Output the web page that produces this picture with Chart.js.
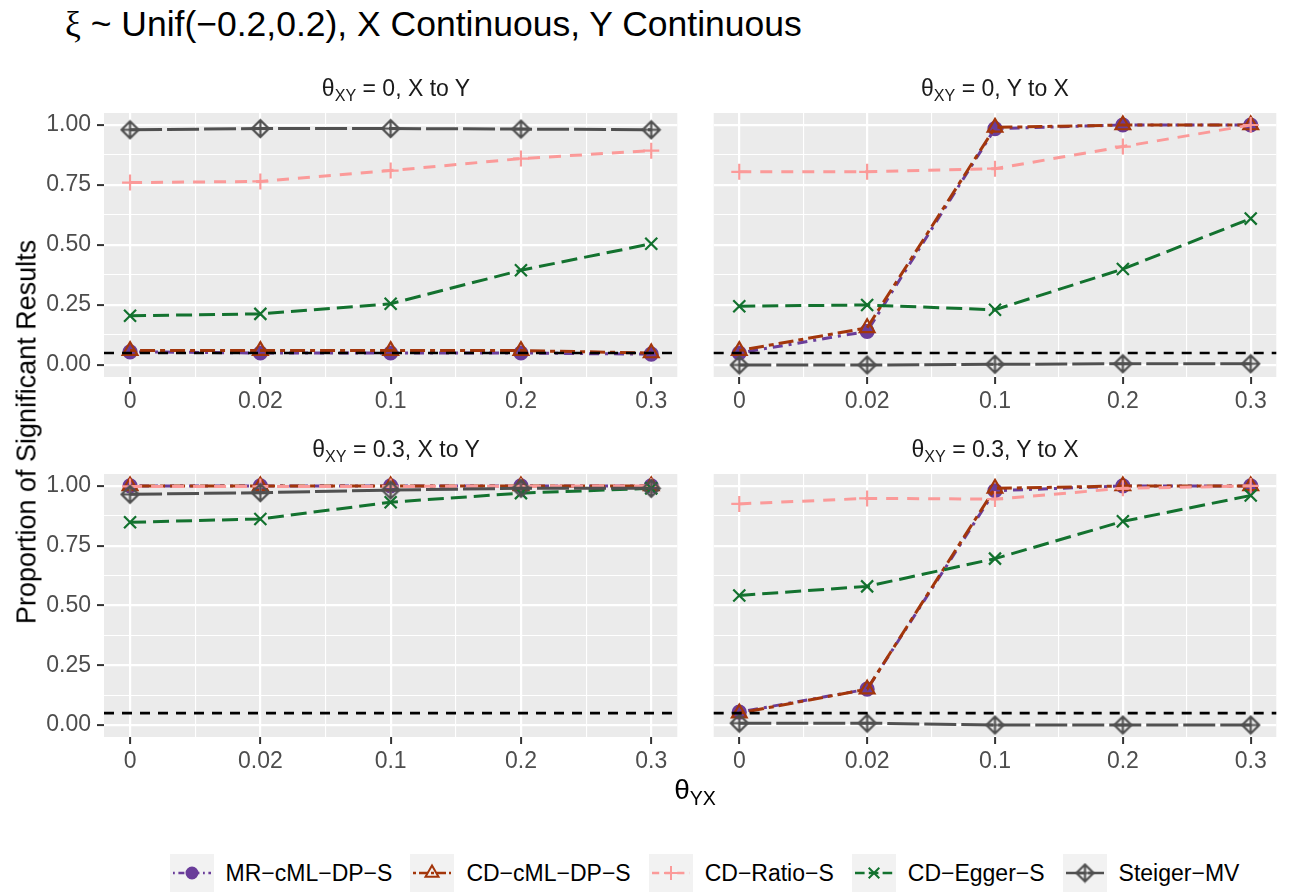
<!DOCTYPE html>
<html>
<head>
<meta charset="utf-8">
<script src="https://cdn.jsdelivr.net/npm/chart.js@4.4.0/dist/chart.umd.min.js"></script>
<style>
body { margin: 0; background: #fff; width: 1296px; height: 892px; position: relative; overflow: hidden; font-family: 'Liberation Sans', Arial, sans-serif; }
canvas.panel { position: absolute; }
.txt { position: absolute; white-space: nowrap; line-height: 1; }
.strip { font-size: 23px; color: #1A1A1A; transform: translateX(-50%); }
.strip sub, #xtitle sub { font-size: 0.7em; vertical-align: -0.3em; }
#legend { position: absolute; left: 113px; width: 1183px; top: 853px; height: 40px; display: flex; justify-content: center; align-items: center; }
#legend .item { display: flex; align-items: center; margin: 0 9px; }
#legend canvas { margin-right: 12px; }
#legend span { font-size: 23px; color: #000; }
</style>
</head>
<body>
<div class="txt" style="left:65px; top:7px; font-size:35.5px; color:#000;"><span style="font-family:'Liberation Serif', serif;">ξ</span> ~ Unif(−0.2,0.2), X Continuous, Y Continuous</div>

<canvas id="p0" class="panel" width="652" height="328" style="left:36px; top:93px;"></canvas>
<canvas id="p1" class="panel" width="584" height="328" style="left:703px; top:93px;"></canvas>
<canvas id="p2" class="panel" width="652" height="327" style="left:36px; top:454px;"></canvas>
<canvas id="p3" class="panel" width="584" height="327" style="left:703px; top:454px;"></canvas>

<div id="ytitle" class="txt" style="left:27px; top:432px; font-size:27px; color:#000; transform: translate(-50%, -50%) rotate(-90deg);">Proportion of Significant Results</div>
<div id="xtitle" class="txt" style="left:695px; top:776px; font-size:28px; color:#000; transform: translateX(-50%);">θ<sub>YX</sub></div>

<div id="legend"></div>

<script>
const xLabels = ['0', '0.02', '0.1', '0.2', '0.3'];
const yTicks = [0, 0.25, 0.5, 0.75, 1];
const yLabels = ['0.00', '0.25', '0.50', '0.75', '1.00'];
const thetaXY = ['0', '0', '0.3', '0.3'];
const direction = ['X to Y', 'Y to X', 'X to Y', 'Y to X'];
const seriesNames = ['MR−cML−DP−S', 'CD−cML−DP−S', 'CD−Ratio−S', 'CD−Egger−S', 'Steiger−MV'];
const refLine = 0.05;

// one row per panel: (0, X to Y), (0, Y to X), (0.3, X to Y), (0.3, Y to X)
const mrCml = [
    [0.055, 0.05, 0.05, 0.05, 0.045],
    [0.05, 0.14, 0.985, 1.0, 1.0],
    [1.0, 1.0, 1.0, 1.0, 1.0],
    [0.054, 0.15, 0.98, 1.0, 1.0]
];
const cdCml = [
    [0.06, 0.06, 0.06, 0.06, 0.05],
    [0.06, 0.155, 0.99, 1.0, 1.0],
    [1.0, 1.0, 1.0, 1.0, 1.0],
    [0.05, 0.15, 0.99, 1.0, 1.0]
];
const cdRatio = [
    [0.76, 0.765, 0.81, 0.86, 0.893],
    [0.805, 0.805, 0.818, 0.91, 1.0],
    [0.998, 0.998, 0.998, 0.999, 1.0],
    [0.925, 0.948, 0.945, 0.99, 1.0]
];
const cdEgger = [
    [0.205, 0.213, 0.255, 0.395, 0.505],
    [0.245, 0.25, 0.23, 0.40, 0.61],
    [0.848, 0.862, 0.932, 0.97, 0.99],
    [0.542, 0.58, 0.696, 0.852, 0.96]
];
const steiger = [
    [0.98, 0.985, 0.985, 0.983, 0.98],
    [0.0, 0.0, 0.003, 0.005, 0.005],
    [0.965, 0.972, 0.983, 0.99, 0.99],
    [0.008, 0.008, 0.0, 0.0, 0.0]
];
const allSeries = [mrCml, cdCml, cdRatio, cdEgger, steiger];

function diamondPlus(color, r) {
    const c = document.createElement('canvas');
    const s = Math.ceil(2 * r + 4);
    c.width = s; c.height = s;
    const g = c.getContext('2d');
    const m = s / 2;
    g.strokeStyle = color;
    g.lineWidth = 2.2;
    g.beginPath();
    g.moveTo(m, m - r); g.lineTo(m + r, m); g.lineTo(m, m + r); g.lineTo(m - r, m); g.closePath();
    g.moveTo(m, m - r); g.lineTo(m, m + r);
    g.moveTo(m - r, m); g.lineTo(m + r, m);
    g.stroke();
    return c;
}

const styles = [
    { color: '#6A3D9A', fill: '#6A3D9A', dash: [3, 6, 10, 6], point: 'circle', radius: 6.5 },
    { color: '#A3360B', fill: 'rgba(0,0,0,0)', dash: [5, 5, 15, 5], point: 'triangle', radius: 8.5 },
    { color: '#FB9A99', fill: '#FB9A99', dash: [12, 9], point: 'cross', radius: 8 },
    { color: '#13722F', fill: '#13722F', dash: [16, 7], point: 'crossRot', radius: 8.5 },
    { color: '#505050', fill: '#505050', dash: [32, 5], point: diamondPlus('#505050', 8.5), radius: 8.5 }
];

const gridX = [0, 0.5, 1, 1.5, 2, 2.5, 3, 3.5, 4];
const gridY = [0, 0.125, 0.25, 0.375, 0.5, 0.625, 0.75, 0.875, 1];

function isMajorX(v) { return Number.isInteger(v); }
function isMajorY(v) { return yTicks.some(t => Math.abs(t - v) < 1e-9); }
function yLabelFor(v) {
    const i = yTicks.findIndex(t => Math.abs(t - v) < 1e-9);
    return i >= 0 ? yLabels[i] : '';
}

const panelBg = {
    id: 'panelBg',
    beforeDraw(chart) {
        const a = chart.chartArea, ctx = chart.ctx;
        ctx.save();
        ctx.fillStyle = '#EBEBEB';
        ctx.fillRect(a.left, a.top, a.right - a.left, a.bottom - a.top);
        ctx.restore();
    }
};

const refLinePlugin = {
    id: 'refLine',
    afterDatasetsDraw(chart) {
        const a = chart.chartArea, ctx = chart.ctx;
        const y = chart.scales.y.getPixelForValue(refLine);
        ctx.save();
        ctx.strokeStyle = '#000000';
        ctx.lineWidth = 2.6;
        ctx.setLineDash([10, 8]);
        ctx.beginPath();
        ctx.moveTo(a.left, y);
        ctx.lineTo(a.right, y);
        ctx.stroke();
        ctx.restore();
    }
};

Chart.defaults.font.family = "'Liberation Sans', Arial, sans-serif";

function makePanel(idx, showY) {
    const datasets = allSeries.map((s, k) => ({
        label: seriesNames[k],
        data: s[idx].map((v, i) => ({ x: i, y: v })),
        borderColor: styles[k].color,
        borderWidth: 3,
        borderDash: styles[k].dash,
        pointStyle: styles[k].point,
        pointRadius: styles[k].radius,
        pointBackgroundColor: styles[k].fill,
        pointBorderColor: styles[k].color,
        pointBorderWidth: 2.2,
        fill: false,
        tension: 0,
        order: 5 - k
    }));

    const tickGrid = (majorFn, show) => ({
        color: '#FFFFFF',
        lineWidth: c => (c.tick && majorFn(c.tick.value)) ? 2.2 : 1.1,
        drawTicks: show,
        tickLength: 7,
        tickWidth: 2,
        tickColor: c => (c.tick && majorFn(c.tick.value)) ? '#333333' : 'rgba(0,0,0,0)'
    });

    new Chart(document.getElementById('p' + idx), {
        type: 'line',
        data: { datasets: datasets },
        plugins: [panelBg, refLinePlugin],
        options: {
            responsive: false,
            animation: false,
            devicePixelRatio: 1,
            layout: { padding: { top: 20, left: 0, right: 0, bottom: 0 } },
            plugins: { legend: { display: false }, tooltip: { enabled: false } },
            scales: {
                x: {
                    type: 'linear',
                    min: -0.2,
                    max: 4.2,
                    afterBuildTicks: s => { s.ticks = gridX.map(v => ({ value: v })); },
                    afterFit: s => { s.height = 44; },
                    ticks: {
                        callback: v => isMajorX(v) ? xLabels[v] : '',
                        autoSkip: false,
                        maxRotation: 0,
                        padding: 4,
                        color: '#4D4D4D',
                        font: { size: 23 }
                    },
                    grid: tickGrid(isMajorX, true),
                    border: { display: false }
                },
                y: {
                    type: 'linear',
                    min: -0.05,
                    max: 1.05,
                    afterBuildTicks: s => { s.ticks = gridY.map(v => ({ value: v })); },
                    afterFit: s => { s.width = showY ? 68 : 0; },
                    ticks: {
                        display: showY,
                        callback: v => yLabelFor(v),
                        autoSkip: false,
                        padding: 6,
                        color: '#4D4D4D',
                        font: { size: 23 }
                    },
                    grid: tickGrid(isMajorY, showY),
                    border: { display: false }
                }
            }
        }
    });
}

makePanel(0, true);
makePanel(1, false);
makePanel(2, true);
makePanel(3, false);

// facet strips
const stripPos = [[396, 77], [995, 77], [396, 438], [995, 438]];
stripPos.forEach((p, i) => {
    const d = document.createElement('div');
    d.className = 'txt strip';
    d.style.left = p[0] + 'px';
    d.style.top = p[1] + 'px';
    d.innerHTML = 'θ<sub>XY</sub> = ' + thetaXY[i] + ', ' + direction[i];
    document.body.appendChild(d);
});

// legend keys
const legend = document.getElementById('legend');
seriesNames.forEach((name, k) => {
    const item = document.createElement('div');
    item.className = 'item';
    const c = document.createElement('canvas');
    c.width = 44; c.height = 38;
    const g = c.getContext('2d');
    g.fillStyle = '#F2F2F2';
    g.fillRect(0, 0, 44, 38);
    g.strokeStyle = styles[k].color;
    g.lineWidth = 2.4;
    g.setLineDash(styles[k].dash.map(d => d * 0.6));
    g.beginPath();
    g.moveTo(3, 19); g.lineTo(41, 19);
    g.stroke();
    g.setLineDash([]);
    g.fillStyle = styles[k].fill;
    g.lineWidth = 2;
    Chart.helpers.drawPoint(g, { pointStyle: styles[k].point, radius: styles[k].radius - 1, rotation: 0, borderWidth: 2 }, 22, 19);
    item.appendChild(c);
    const t = document.createElement('span');
    t.textContent = name;
    item.appendChild(t);
    legend.appendChild(item);
});
</script>
</body>
</html>
